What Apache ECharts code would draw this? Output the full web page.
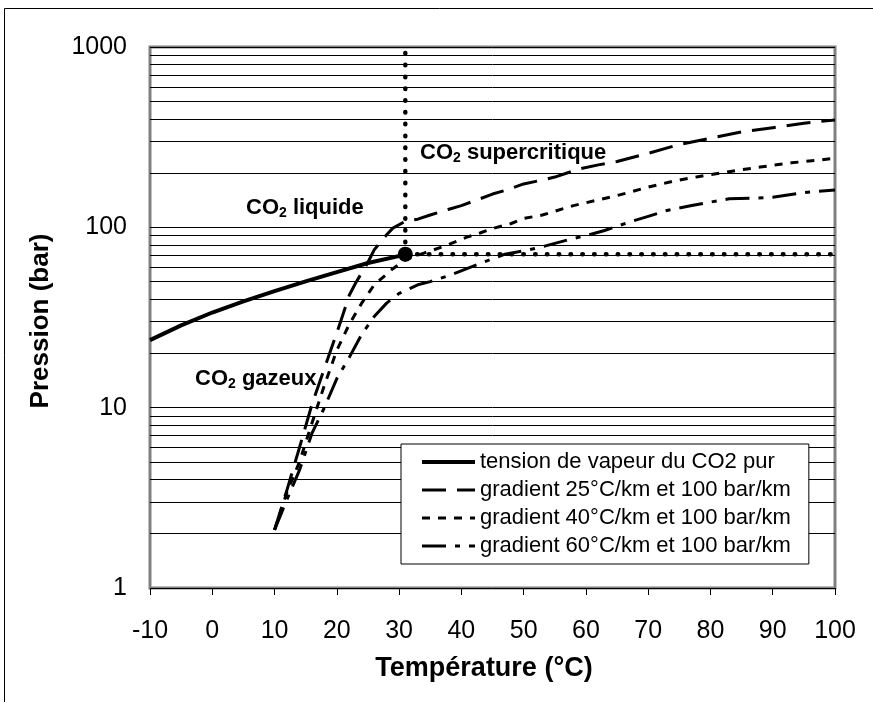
<!DOCTYPE html>
<html><head><meta charset="utf-8">
<script src="https://cdn.jsdelivr.net/npm/echarts@6/dist/echarts.min.js"></script>
<style>html,body{margin:0;padding:0;background:#fff}#c{width:873px;height:702px}</style>
</head><body><div id="c"></div>
<script>
// ---- data ----
const seriesNames = [
  'tension de vapeur du CO2 pur',
  'gradient 25°C/km et 100 bar/km',
  'gradient 40°C/km et 100 bar/km',
  'gradient 60°C/km et 100 bar/km'
];
const vaporT = [-10, -5, 0, 5, 10, 15, 20, 25, 31];
const vaporP = [23.7, 28.6, 33.7, 38.8, 44.3, 50.1, 56.5, 63.4, 70.6];

const g25T = [10, 12, 14, 16, 18, 20, 21, 22, 23, 24, 25, 26, 28, 29, 31, 33, 35, 38, 40, 43, 45, 47, 50, 53, 55, 59, 62, 65, 70, 75, 80, 85, 90, 95, 100];
const g25P = [2.1, 3.5, 6, 10.4, 16.5, 26, 33, 42, 49, 56, 64, 75, 91, 99, 108, 111, 117, 126, 132, 144, 153, 160, 174, 183, 190, 211, 222, 232, 257, 288, 312, 338, 357, 378, 394];

const g40T = [10, 12, 14, 16, 18, 20, 22, 24, 26, 28, 29, 31, 34, 37, 41, 43, 45, 48, 50, 53, 58, 62, 65, 70, 74, 78, 84, 88, 93, 97, 100];
const g40P = [2.1, 3.4, 5, 8.2, 13.3, 20.8, 29, 38, 48, 55, 59, 66, 72, 78, 88.5, 93, 98.4, 105, 112, 117, 132, 142, 150, 167, 180, 191, 206, 216, 228, 235, 242];

const g60T = [10, 12, 14, 16, 18, 20, 22, 24, 26, 28, 30, 33, 35, 38, 43, 47, 50, 53, 57, 60, 63, 67, 70, 73, 77, 80, 83, 87, 90, 95, 100];
const g60P = [2.1, 3.1, 4.5, 7.2, 10, 14.5, 19, 25.5, 32, 38, 43, 48, 50, 54, 63, 71, 74, 78, 85, 90, 96, 107, 115, 124, 132, 138, 144, 145, 147, 156, 161];

const criticalT = 31;
const criticalP = 71;
const tMin = -10, tMax = 100, tStep = 10;
const pMin = 1, pMax = 1000;
const pMinorGrid = [2, 3, 4, 5, 6, 7, 8, 9, 20, 30, 40, 50, 60, 70, 80, 90, 200, 300, 400, 500, 600, 700, 800, 900];

// ---- build ----
const zip = (a, b) => a.map((v, i) => [v, b[i]]);
const FONT = "'Liberation Sans', Arial, sans-serif";
const chart = echarts.init(document.getElementById('c'));

const annot = (txt) => ({
  text: '{b|CO}{s|2}{b|' + txt + '}',
  rich: {
    b: { fontSize: 22, fontWeight: 'bold', fontFamily: FONT, fill: '#000', lineHeight: 24, verticalAlign: 'middle' },
    s: { fontSize: 14, fontWeight: 'bold', fontFamily: FONT, fill: '#000', lineHeight: 11, verticalAlign: 'bottom' }
  },
  align: 'left', verticalAlign: 'middle'
});

const lineSeries = (name, t, p, style, z) => ({
  name, type: 'line', data: zip(t, p), symbol: 'none', smooth: false, z,
  lineStyle: Object.assign({ color: '#000', cap: 'butt', join: 'round' }, style),
  itemStyle: { color: '#000', opacity: 0 }
});

const option = {
  animation: false,
  backgroundColor: '#fff',
  grid: { left: 150, right: 38, top: 47, bottom: 114, show: true, borderColor: '#808080', borderWidth: 3, backgroundColor: 'transparent', z: 0 },
  xAxis: {
    type: 'value', min: tMin, max: tMax, interval: tStep,
    axisLine: { show: false },
    axisTick: { show: true, length: 7, lineStyle: { color: '#000', width: 1 } },
    splitLine: { show: false },
    axisLabel: { fontFamily: FONT, fontSize: 25, color: '#000', margin: 31 }
  },
  yAxis: {
    type: 'log', logBase: 10, min: pMin, max: pMax,
    axisLine: { show: false },
    axisTick: { show: true, length: 7, lineStyle: { color: '#000', width: 1 } },
    splitLine: { show: true, lineStyle: { color: '#000', width: 1 } },
    minorTick: { show: false }, minorSplitLine: { show: false },
    axisLabel: { fontFamily: FONT, fontSize: 25, color: '#000', margin: 23, formatter: v => String(v) }
  },
  legend: {
    data: seriesNames, orient: 'vertical', left: 401, top: 444,
    padding: [7, 18, 7, 19], itemWidth: 53, itemHeight: 14, itemGap: 6,
    backgroundColor: '#fff', borderColor: '#000', borderWidth: 1,
    itemStyle: { opacity: 0 },
    lineStyle: { width: 'inherit', type: 'inherit', color: '#000' },
    textStyle: { fontFamily: FONT, fontSize: 22, color: '#000' },
    align: 'left', selectedMode: false, z: 10
  },
  graphic: [
    { type: 'rect', shape: { x: 4.5, y: 8.5, width: 1000, height: 1000 }, style: { fill: 'none', stroke: '#000', lineWidth: 1 }, silent: true },
    { type: 'text', x: 41, y: 321, rotation: Math.PI / 2, style: { text: 'Pression (bar)', fontSize: 26, fontWeight: 'bold', fontFamily: FONT, fill: '#000', align: 'center', verticalAlign: 'middle' } },
    { type: 'text', x: 484, y: 669, style: { text: 'Température (°C)', fontSize: 27, fontWeight: 'bold', fontFamily: FONT, fill: '#000', align: 'center', verticalAlign: 'middle' } },
    { type: 'text', x: 246, y: 208, z: 20, style: annot(' liquide') },
    { type: 'text', x: 420, y: 153, z: 20, style: annot(' supercritique') },
    { type: 'text', x: 195, y: 379, z: 20, style: annot(' gazeux') }
  ],
  series: [
    {
      name: 'gridlines', type: 'line', data: [], silent: true, z: 1,
      markLine: {
        silent: true, symbol: ['none', 'none'], label: { show: false }, animation: false, z: 1,
        lineStyle: { type: 'solid', color: '#000', width: 1 },
        emphasis: { disabled: true },
        data: pMinorGrid.map(v => ({ yAxis: v }))
      }
    },
    lineSeries(seriesNames[0], vaporT, vaporP, { width: 4, type: 'solid' }, 6),
    lineSeries(seriesNames[1], g25T, g25P, { width: 3, type: [24, 11] }, 5),
    lineSeries(seriesNames[2], g40T, g40P, { width: 3, type: [8, 8] }, 5),
    lineSeries(seriesNames[3], g60T, g60P, { width: 3, type: [24, 9, 5, 9] }, 5),
    { name: 'critH', type: 'line', data: [[criticalT, criticalP], [tMax, criticalP]], symbol: 'none', z: 4,
      lineStyle: { color: '#000', width: 4.5, type: [0.5, 11.3], cap: 'round' } },
    { name: 'critV', type: 'line', data: [[criticalT, criticalP], [criticalT, pMax]], symbol: 'none', z: 4,
      lineStyle: { color: '#000', width: 4.5, type: [0.5, 11.3], cap: 'round' } },
    { name: 'critPoint', type: 'scatter', data: [[criticalT, criticalP]], symbol: 'circle', symbolSize: 15, z: 7,
      itemStyle: { color: '#000', opacity: 1 } }
  ]
};
chart.setOption(option);
</script>
</body></html>
